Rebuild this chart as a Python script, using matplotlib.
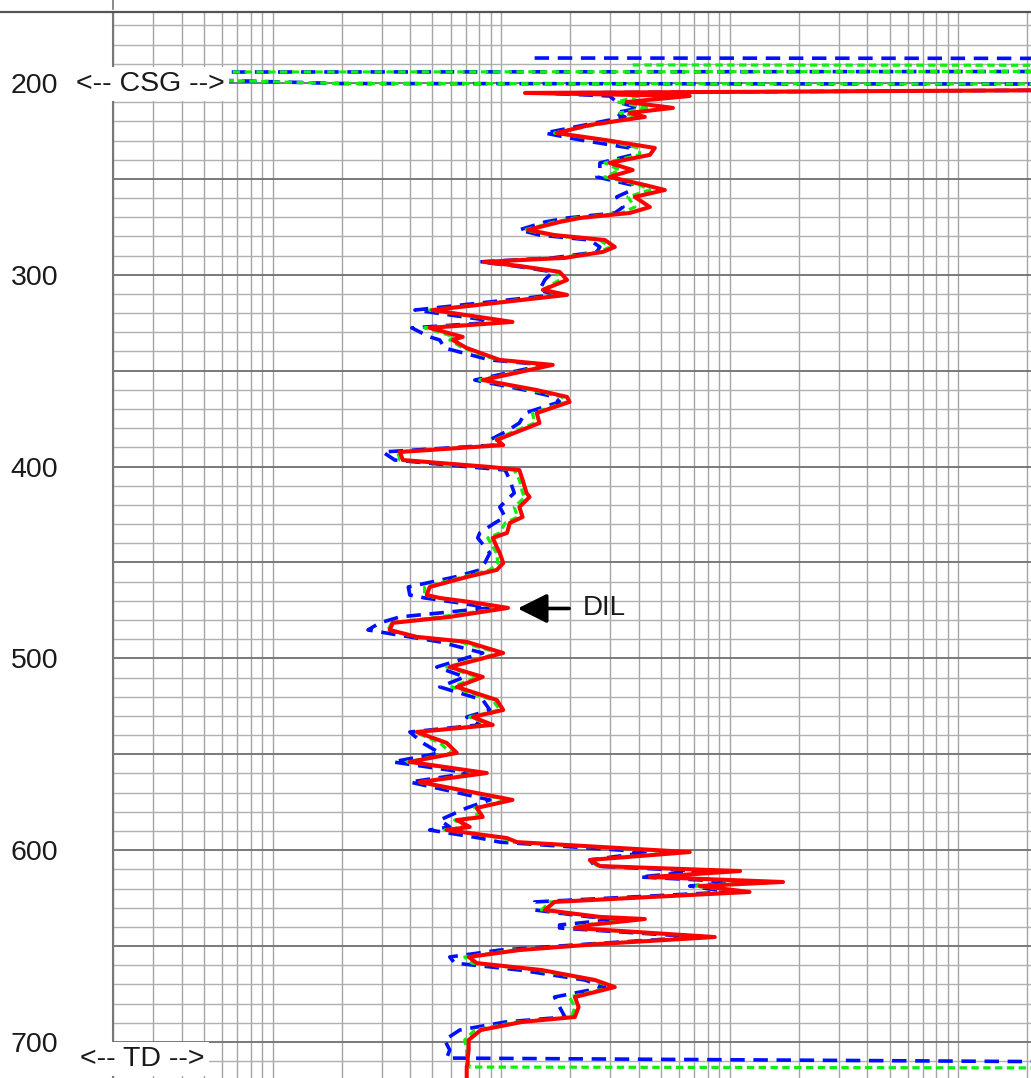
import matplotlib
matplotlib.use("Agg")
import matplotlib.pyplot as plt
from matplotlib.lines import Line2D
from matplotlib.ticker import LogLocator, MultipleLocator, FuncFormatter, NullFormatter

plt.rcParams['font.family'] = ['Liberation Sans', 'DejaVu Sans']

OFF = 5000.0  # reading beyond the 2000 ohm-m edge of the track
NA = float('nan')  # no sample

# depth (ft) shared by the three resistivity curves
depth = [
    185.0, 186.8, 187.0, 187.2, 190.4, 190.6, 190.8, 194.0, 194.3, 198.7, 200.3, 200.6,
    203.6, 205.2, 206.8, 209.9, 213.0, 215.6, 217.7, 221.9, 226.1, 229.7,
    233.9, 237.5, 241.7, 245.4, 249.0, 253.2, 255.8, 259.4, 264.7, 267.8,
    270.4, 272.5, 276.6, 279.3, 281.9, 285.5, 288.1, 291.2, 293.3, 295.4,
    298.5, 302.7, 307.9, 310.5, 318.4, 324.6, 327.7, 332.4, 334.0, 338.2,
    344.4, 347.0, 354.9, 360.1, 363.7, 366.3, 372.1, 377.3, 382.0, 386.1,
    388.8, 392.4, 396.6, 400.2, 401.8, 407.0, 413.8, 415.9, 421.1, 426.3,
    429.4, 434.6, 437.2, 441.9, 445.1, 450.3, 453.9, 457.6, 462.8, 467.0,
    468.5, 471.1, 473.7, 478.4, 481.5, 485.2, 488.8, 491.4, 497.2, 504.5,
    509.7, 514.9, 521.7, 526.9, 530.6, 534.7, 538.4, 544.1, 549.3, 554.0,
    559.8, 564.5, 573.8, 578.0, 582.7, 584.3, 587.9, 589.5, 593.7, 595.8,
    601.0, 605.1, 608.3, 610.9, 614.0, 616.6, 618.7, 621.8, 627.0, 631.2,
    634.8, 635.9, 639.0, 640.6, 645.3, 648.9, 652.1, 655.7, 658.9, 662.5,
    667.7, 671.4, 676.6, 681.8, 687.0, 689.6, 693.8, 699.0, 704.2, 708.4,
    710.5, 713.1, 713.6, 714.6, 719.8,
]

# deep induction (blue dashed)
deep = [
    NA, NA, 14.0, OFF, OFF, OFF, OFF, OFF, 0.62, 0.62, 1.96, OFF,
    OFF, 14.7, 29.8, 32.0, 40.3, 31.4, 34.8, 23.2, 15.5, 22.1,
    36.5, 37.6, 27.0, 27.0, 26.2, 37.3, 37.3, 32.0, 34.1, 31.4,
    19.4, 15.5, 12.0, 14.7, 24.4, 27.0, 26.2, 16.8, 8.05, 11.4,
    16.8, 15.5, 14.7, 17.1, 4.19, 9.85, 4.06, 4.86, 5.38, 5.65,
    8.91, 15.5, 7.66, 12.7, 17.1, 18.0, 12.7, 12.0, 10.4, 8.91,
    9.37, 3.03, 3.42, 7.28, 10.4, 10.9, 11.4, 10.9, 9.85, 10.4,
    9.37, 8.05, 7.89, 8.47, 8.91, 8.47, 8.05, 6.25, 3.92, 3.98,
    4.62, 6.58, 8.91, 3.60, 2.94, 2.61, 3.98, 5.38, 8.30, 5.22,
    6.92, 5.38, 8.30, 8.91, 7.06, 8.05, 3.98, 4.53, 5.38, 3.35,
    7.28, 3.98, 8.91, 7.06, 5.77, 5.38, 5.95, 4.86, 8.05, 9.85,
    44.7, 24.4, 25.7, 73.9, 40.3, 111, 66.8, 99.8, 14.0, 14.0,
    24.4, 33.0, 18.0, 18.0, 73.9, 24.4, 9.85, 5.95, 6.25, 12.0,
    23.2, 28.4, 17.1, 18.0, 19.0, 10.4, 6.58, 5.65, 5.95, 5.77,
    OFF, OFF, OFF, OFF, OFF,
]

# medium induction (green dotted)
medium = [
    NA, NA, NA, NA, NA, 37.6, OFF, OFF, 0.62, 0.62, 1.96, OFF,
    OFF, 27.0, 40.3, 32.0, 44.7, 33.0, 40.3, 25.7, 17.1, 27.0,
    40.3, 40.3, 28.4, 33.0, 28.4, 40.3, 44.7, 35.8, 38.4, 33.7,
    21.0, 17.1, 12.7, 16.3, 27.0, 29.8, 27.0, 18.0, 8.30, 11.8,
    17.5, 18.0, 15.2, 18.4, 4.86, 10.7, 4.62, 6.25, 5.95, 6.78,
    9.56, 16.3, 8.05, 13.6, 18.4, 19.4, 13.7, 14.0, 11.2, 9.37,
    9.85, 3.53, 3.60, 8.47, 11.4, 12.0, 12.4, 12.7, 11.4, 11.8,
    10.4, 9.85, 8.73, 9.18, 9.56, 9.66, 8.91, 6.78, 4.62, 4.62,
    5.22, 7.43, 10.2, 5.38, 3.32, 3.19, 4.19, 6.58, 9.85, 5.77,
    7.89, 6.07, 9.18, 9.85, 7.28, 8.91, 4.19, 5.38, 6.07, 3.88,
    8.22, 4.32, 10.7, 7.66, 7.89, 6.25, 6.92, 5.65, 10.2, 11.2,
    60.4, 24.4, 26.4, 99.8, 49.4, 135, 70.2, 117, 16.3, 15.0,
    26.2, 38.4, 23.2, 20.3, 81.7, 26.2, 11.4, 6.92, 7.43, 14.3,
    24.9, 30.4, 19.9, 21.0, 20.3, 11.8, 7.66, 6.92, 7.06, 7.06,
    7.13, 7.28, OFF, OFF, OFF,
]

# shallow focused log (red solid)
shallow = [
    OFF, OFF, OFF, OFF, OFF, OFF, OFF, OFF, OFF, OFF, OFF, OFF,
    OFF, 12.7, 66.8, 35.4, 56.4, 36.5, 42.5, 24.4, 17.5, 28.4,
    47.0, 44.7, 29.8, 37.6, 29.8, 42.5, 52.0, 38.4, 44.7, 36.5,
    22.1, 18.0, 13.1, 17.1, 28.4, 31.4, 27.8, 19.0, 8.4, 12.0,
    18.0, 19.4, 15.2, 19.4, 5.0, 11.2, 4.86, 6.78, 6.13, 7.06,
    9.85, 16.8, 8.30, 14.3, 19.4, 19.9, 14.3, 14.7, 11.7, 9.56,
    10.2, 3.60, 3.71, 8.91, 12.0, 12.4, 12.9, 13.3, 12.0, 12.4,
    10.9, 10.6, 9.18, 9.56, 9.85, 10.2, 9.56, 7.06, 4.86, 4.72,
    5.38, 7.81, 10.7, 5.95, 3.35, 3.25, 4.27, 7.06, 10.2, 5.95,
    8.30, 6.39, 9.56, 10.2, 7.50, 9.18, 4.27, 5.77, 6.39, 3.98,
    8.64, 4.40, 11.2, 7.81, 8.30, 6.39, 7.28, 5.77, 10.6, 11.7,
    66.8, 24.4, 27.0, 111, 44.7, 171, 73.9, 122, 17.1, 15.5,
    27.0, 42.5, 24.4, 21.0, 86.0, 27.0, 12.0, 7.20, 7.81, 15.0,
    25.7, 31.4, 21.0, 21.8, 21.0, 12.3, 8.13, 7.20, 7.20, 7.13,
    7.13, 7.06, 7.06, 7.06, 7.06,
]

depth_labels = [200, 300, 400, 500, 600, 700]
casing_depth = 200.6
td_depth = 708.8
dil_depth = 474.0
dil_value = 11.8

W, H = 1031, 1078
fig = plt.figure(figsize=(W / 100, H / 100), dpi=100)
ax = fig.add_axes([113 / W, 0, 1 - 113 / W, 1 - 12 / H])

ax.set_xscale('log')
ax.set_xlim(0.2, 2080)
ax.set_ylim(718.8, 163.0)

ax.plot(deep, depth, color='#0010ff', lw=2.6, dashes=(4.0, 2.4), zorder=3)
ax.plot(medium, depth, color='#10ee10', lw=2.3, dashes=(2.3, 1.4), zorder=4)
ax.plot(shallow, depth, color='#ff0000', lw=2.9, zorder=5)

# log grid across the track, 10 ft depth lines with heavier 50 ft lines
ax.xaxis.set_major_locator(LogLocator(base=10, numticks=12))
ax.xaxis.set_minor_locator(LogLocator(base=10, subs=range(2, 10), numticks=60))
ax.xaxis.set_major_formatter(NullFormatter())
ax.xaxis.set_minor_formatter(NullFormatter())
ax.yaxis.set_major_locator(MultipleLocator(50))
ax.yaxis.set_minor_locator(MultipleLocator(10))
ax.yaxis.set_major_formatter(FuncFormatter(lambda v, p: f'{v:.0f}' if round(v) in depth_labels else ''))
ax.set_axisbelow(True)
ax.grid(which='both', axis='x', color='#a4a4a4', lw=1.0)
ax.grid(which='major', axis='y', color='#707070', lw=1.3)
ax.grid(which='minor', axis='y', color='#b0b0b0', lw=1.0)
ax.tick_params(which='both', length=0)
ax.tick_params(axis='y', labelsize=20.5, pad=39.5, labelcolor='#1a1a1a')

for side in ['top', 'right', 'bottom']:
    ax.spines[side].set_visible(False)
ax.spines['left'].set_color('#777777')
ax.spines['left'].set_linewidth(1.5)

# header border above the track
fig.add_artist(Line2D([0, 1], [1 - 12 / H] * 2, color='#555555', lw=1.6, transform=fig.transFigure))
fig.add_artist(Line2D([113 / W] * 2, [1, 1 - 9 / H], color='#777777', lw=1.2, transform=fig.transFigure))

box = dict(facecolor='white', edgecolor='none', pad=3)
ax.text(-0.040, casing_depth, '<-- CSG -->', transform=ax.get_yaxis_transform(), fontsize=20.5,
        color='#1a1a1a', va='center', ha='left', bbox=box, zorder=10, clip_on=False)
ax.text(-0.036, td_depth, '<-- TD -->', transform=ax.get_yaxis_transform(), fontsize=20.5,
        color='#1a1a1a', va='center', ha='left', bbox=box, zorder=10, clip_on=False)

ax.annotate('DIL', xy=(dil_value, dil_depth), xytext=(22.8, dil_depth), fontsize=20, color='#1a1a1a',
            va='center', ha='left', zorder=10,
            arrowprops=dict(arrowstyle='-|>,head_length=0.9,head_width=0.45', color='black',
                            lw=2.6, shrinkA=8, shrinkB=0))

fig.savefig('out.png', dpi=100)
